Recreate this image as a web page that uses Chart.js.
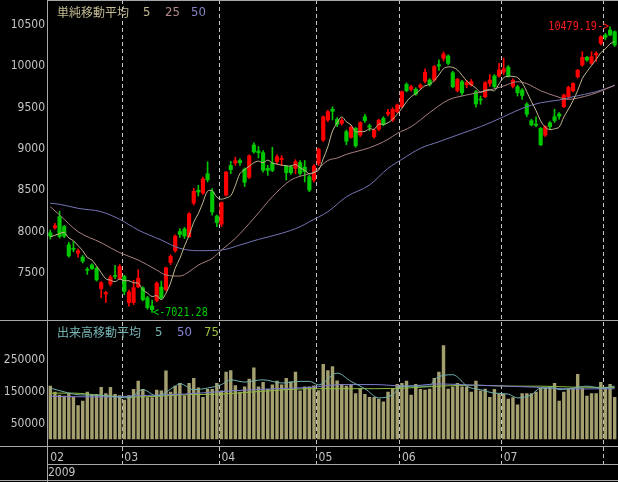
<!DOCTYPE html>
<html>
<head>
<meta charset="utf-8">
<script src="https://cdn.jsdelivr.net/npm/chart.js@4.4.1/dist/chart.umd.min.js"></script>
<style>
html, body { margin: 0; padding: 0; background: #000; }
#wrap { position: relative; width: 618px; height: 482px; background: #000; overflow: hidden; }
#priceBox { position: absolute; left: 0; top: 0; width: 618px; height: 320px; }
#volBox { position: absolute; left: 0; top: 322px; width: 618px; height: 159px; }
.hl { position: absolute; height: 1px; background: #a8a8a8; }
.vl { position: absolute; width: 1px; background: #a8a8a8; }
.lg { position: absolute; font-size: 12px; line-height: 14px; white-space: nowrap; }
.jp { font-family: "Noto Sans CJK JP", sans-serif; }
.num { font-family: "Liberation Sans Narrow", "DejaVu Sans Condensed", "Liberation Sans", sans-serif; font-size: 13px; }
</style>
</head>
<body>
<div id="wrap">
  <div id="priceBox"><canvas id="priceChart" width="618" height="320"></canvas></div>
  <div id="volBox"><canvas id="volChart" width="618" height="159"></canvas></div>

  <div class="hl" style="left:47px;top:0;width:571px"></div>
  <div class="hl" style="left:0;top:320px;width:618px"></div>
  <div class="hl" style="left:0;top:446px;width:618px"></div>
  <div class="hl" style="left:47px;top:464px;width:571px"></div>
  <div class="hl" style="left:0;top:480px;width:618px"></div>
  <div class="vl" style="left:47px;top:0;height:482px"></div>

  <span class="lg jp" style="left:57px;top:5px;color:#c4bc94">単純移動平均</span>
  <span class="lg num" style="left:143px;top:5px;color:#c4bc94">5</span>
  <span class="lg num" style="left:165px;top:5px;color:#b08888">25</span>
  <span class="lg num" style="left:191px;top:5px;color:#8484c4">50</span>

  <span class="lg jp" style="left:57px;top:325px;color:#78b4b4">出来高移動平均</span>
  <span class="lg num" style="left:155px;top:325px;color:#78b4b4">5</span>
  <span class="lg num" style="left:177px;top:325px;color:#8484d4">50</span>
  <span class="lg num" style="left:204px;top:325px;color:#9cc040">75</span>
</div>

<script>
// trading days, Feb 5 2009 .. Aug 5 2009
const tradingDays = [
    ['02', [5, 6, 9, 10, 12, 13, 16, 17, 18, 19, 20, 23, 24, 25, 26, 27]],
    ['03', [2, 3, 4, 5, 6, 9, 10, 11, 12, 13, 16, 17, 18, 19, 23, 24, 25, 26, 27, 30, 31]],
    ['04', [1, 2, 3, 6, 7, 8, 9, 10, 13, 14, 15, 16, 17, 20, 21, 22, 23, 24, 27, 28, 30]],
    ['05', [1, 7, 8, 11, 12, 13, 14, 15, 18, 19, 20, 21, 22, 25, 26, 27, 28, 29]],
    ['06', [1, 2, 3, 4, 5, 8, 9, 10, 11, 12, 15, 16, 17, 18, 19, 22, 23, 24, 25, 26, 29, 30]],
    ['07', [1, 2, 3, 6, 7, 8, 9, 10, 13, 14, 15, 16, 17, 21, 22, 23, 24, 27, 28, 29, 30, 31]],
    ['08', [3, 4, 5]]
];
const yearLabel = '2009';

// daily candles (open / high / low / close)
const opens = [
    7985, 8045, 8180, 8060, 7840, 7795, 7737, 7690, 7540, 7596, 7556, 7310, 7245, 7365, 7462, 7430,
    7456, 7140, 7140, 7330, 7318, 7198, 7100, 7166, 7327, 7295, 7625, 7768, 8000, 8030, 7937, 8345, 8500, 8466, 8700, 8482, 8188,
    8090, 8440, 8800, 8830, 8860, 8756, 8656, 9047, 8975, 8954, 8765, 8830, 8845, 8870, 8790, 8780, 8765, 8833, 8780, 8663, 8623,
    8826, 9108, 9350, 9480, 9358, 9310, 9208, 9140, 9249, 9168, 9390, 9280, 9148, 9237, 9370, 9423, 9350, 9450,
    9511, 9782, 9722, 9722, 9746, 9820, 9834, 9834, 10020, 10097, 10125, 9923, 9705, 9814, 9777, 9774, 9693, 9600, 9632, 9794, 9883, 9883,
    9930, 9990, 9760, 9753, 9713, 9544, 9341, 9300, 9249, 9168, 9317, 9390, 9423, 9511, 9632, 9705, 9874, 10016, 10109, 10036, 10137, 10278,
    10379, 10439, 10419
];
const highs = [
    8018, 8100, 8245, 8075, 7870, 7880, 7790, 7710, 7565, 7610, 7570, 7395, 7275, 7470, 7590, 7600,
    7470, 7290, 7410, 7540, 7330, 7215, 7170, 7390, 7400, 7570, 7720, 7960, 8035, 8050, 8230, 8523, 8560, 8660, 8845, 8520, 8200,
    8360, 8730, 8850, 8900, 8880, 8770, 8930, 9075, 9030, 8980, 8800, 9020, 8930, 8920, 8800, 8800, 8870, 8860, 8860, 8680, 8810,
    9010, 9400, 9470, 9510, 9380, 9370, 9230, 9280, 9260, 9330, 9420, 9300, 9240, 9360, 9390, 9480, 9500, 9545,
    9700, 9800, 9770, 9740, 9790, 9970, 9850, 10010, 10080, 10175, 10140, 9940, 9855, 9830, 9830, 9840, 9710, 9640, 9815, 9900, 9900, 10036,
    10100, 10010, 9850, 9770, 9730, 9560, 9360, 9390, 9260, 9280, 9330, 9480, 9440, 9665, 9760, 9800, 9960, 10177, 10120, 10177, 10177, 10370,
    10400, 10479.19, 10430
];
const lows = [
    7909, 8030, 7920, 7925, 7690, 7755, 7690, 7620, 7480, 7540, 7400, 7200, 7140, 7340, 7430, 7420,
    7235, 7095, 7115, 7320, 7160, 7060, 7021.28, 7150, 7180, 7280, 7600, 7750, 7930, 7915, 7930, 8320, 8430, 8450, 8600, 8200, 8060,
    8060, 8430, 8700, 8800, 8800, 8543, 8640, 8950, 8890, 8720, 8680, 8725, 8820, 8800, 8623, 8690, 8700, 8680, 8600, 8482, 8600,
    8800, 9090, 9330, 9350, 9270, 9290, 9050, 9130, 9020, 9150, 9320, 9220, 9130, 9220, 9280, 9400, 9330, 9440,
    9500, 9690, 9700, 9650, 9730, 9800, 9760, 9820, 9950, 10065, 10020, 9740, 9690, 9650, 9740, 9760, 9505, 9540, 9620, 9760, 9740, 9870,
    9900, 9870, 9740, 9640, 9600, 9390, 9280, 9270, 9040, 9150, 9240, 9320, 9360, 9500, 9610, 9690, 9860, 10000, 10060, 10020, 10060, 10260,
    10320, 10370, 10240
];
const closes = [
    7945, 8070, 7940, 7945, 7705, 7785, 7768, 7640, 7530, 7550, 7415, 7380, 7262, 7450, 7457, 7576,
    7275, 7265, 7320, 7435, 7174, 7080, 7054, 7375, 7198, 7560, 7700, 7945, 7965, 7945, 8215, 8488, 8479, 8636, 8626, 8236, 8109,
    8351, 8719, 8749, 8857, 8832, 8595, 8916, 8964, 8955, 8742, 8742, 8740, 8906, 8885, 8712, 8712, 8845, 8703, 8726, 8502, 8793,
    8995, 9390, 9450, 9455, 9299, 9345, 9093, 9261, 9038, 9317, 9344, 9264, 9229, 9347, 9300, 9445, 9480, 9532,
    9693, 9705, 9753, 9665, 9774, 9930, 9780, 9996, 10003, 10149, 10036, 9754, 9843, 9680, 9801, 9814, 9544, 9592, 9801, 9834, 9754, 9955,
    9970, 9883, 9830, 9680, 9647, 9420, 9291, 9287, 9050, 9269, 9269, 9344, 9395, 9653, 9745, 9794, 9955, 10109, 10076, 10117, 10157, 10359,
    10352, 10379, 10258
];

// simple moving averages
const priceMa5 = [
    7935, 7955, 7975, 7988, 7922, 7889, 7829, 7769, 7686, 7655, 7581, 7503, 7427, 7411, 7393, 7425,
    7404, 7405, 7379, 7374, 7294, 7255, 7213, 7224, 7176, 7253, 7377, 7556, 7674, 7823, 7954, 8112, 8218, 8353, 8489, 8493, 8417,
    8392, 8408, 8433, 8557, 8702, 8750, 8790, 8833, 8852, 8834, 8864, 8829, 8817, 8803, 8797, 8791, 8812, 8771, 8740, 8698, 8714,
    8744, 8881, 9026, 9217, 9318, 9388, 9328, 9291, 9207, 9211, 9211, 9245, 9238, 9300, 9297, 9317, 9360, 9421,
    9490, 9571, 9633, 9670, 9718, 9765, 9780, 9829, 9897, 9972, 9993, 9988, 9957, 9892, 9823, 9778, 9736, 9686, 9710, 9717, 9705, 9787,
    9863, 9879, 9878, 9864, 9802, 9692, 9574, 9465, 9339, 9263, 9233, 9244, 9265, 9386, 9481, 9586, 9708, 9851, 9936, 10010, 10083, 10164,
    10212, 10273, 10301
];
// [day index, value]
const priceMa25 = [
    [0, 8300], [2, 8200], [6, 7998], [11, 7865], [15, 7744], [19, 7655], [23, 7534], [25, 7473], [28, 7461],
    [30, 7513], [32, 7594], [35, 7675], [37, 7776], [40, 7917], [44, 8160], [48, 8421], [52, 8623], [56, 8700],
    [57, 8720], [60, 8860], [62, 8890], [64, 8934], [69, 9015], [73, 9116], [75, 9189], [78, 9269], [82, 9440],
    [86, 9592], [90, 9653], [95, 9713], [98, 9762], [101, 9814], [103, 9790], [106, 9705], [109, 9644], [112, 9600],
    [114, 9615], [117, 9660], [119, 9700], [122, 9770]
];
const priceMa50 = [
    [0, 8342], [2, 8330], [6, 8281], [11, 8240], [15, 8148], [19, 8018], [24, 7897], [28, 7797], [32, 7768],
    [37, 7776], [41, 7837], [45, 7905], [50, 7978], [54, 8058], [56, 8119], [60, 8240], [64, 8421], [69, 8563],
    [73, 8765], [76, 8874], [80, 9007], [84, 9087], [89, 9189], [93, 9269], [98, 9390], [102, 9491], [106, 9559],
    [110, 9592], [113, 9632], [118, 9693], [122, 9770]
];
const priceTicks = [7500, 8000, 8500, 9000, 9500, 10000, 10500];

// volume
const volumes = [
    169000, 150000, 141000, 138000, 146000, 134000, 108000, 122000, 150000, 141000, 143000, 165000, 146000, 165000, 143000, 139000,
    125000, 139000, 159000, 185000, 159000, 133000, 133000, 157000, 154000, 217000, 150000, 169000, 178000, 139000, 178000, 194000, 164000, 134000, 159000, 159000, 178000,
    154000, 213000, 218000, 171000, 150000, 167000, 191000, 227000, 167000, 181000, 159000, 173000, 185000, 173000, 194000, 183000, 213000, 154000, 167000, 167000, 170000,
    155000, 238000, 218000, 231000, 186000, 175000, 169000, 173000, 146000, 162000, 143000, 134000, 134000, 128000, 120000, 150000, 159000, 175000,
    178000, 185000, 141000, 175000, 159000, 157000, 160000, 194000, 213000, 297000, 160000, 167000, 178000, 167000, 167000, 150000, 185000, 154000, 160000, 134000, 159000, 143000,
    143000, 128000, 133000, 110000, 146000, 146000, 146000, 150000, 162000, 162000, 167000, 178000, 122000, 150000, 159000, 162000, 206000, 162000, 138000, 146000, 146000, 181000,
    162000, 175000, 134000
];
const volMa5 = [
    [0, 162000], [3, 150000], [6, 141000], [11, 139000], [15, 133000], [17, 131000], [20, 157000], [23, 137000],
    [27, 168000], [28, 176000], [31, 157000], [34, 162000], [37, 173000], [39, 188000], [42, 181000], [46, 188000],
    [50, 178000], [54, 183000], [56, 183000], [58, 172000], [62, 209000], [65, 183000], [68, 160000], [71, 131000],
    [74, 141000], [76, 168000], [79, 168000], [82, 168000], [83, 188000], [85, 202000], [87, 204000], [89, 183000],
    [90, 168000], [93, 157000], [96, 146000], [99, 143000], [101, 131000], [104, 141000], [106, 162000], [109, 162000],
    [110, 157000], [113, 162000], [116, 168000], [119, 162000], [122, 168000]
];
const volMa50 = [
    [0, 136000], [11, 134000], [21, 139000], [29, 143000], [40, 154000], [47, 159000], [56, 164000], [63, 173000],
    [70, 173000], [77, 168000], [84, 175000], [92, 171000], [99, 168000], [106, 164000], [113, 159000], [122, 160000]
];
const volMa75 = [
    [0, 146000], [5, 146000], [11, 139000], [18, 134000], [23, 136000], [29, 141000], [37, 143000], [44, 150000],
    [51, 157000], [56, 160000], [63, 160000], [70, 160000], [77, 162000], [84, 168000], [92, 171000], [99, 168000],
    [106, 168000], [113, 165000], [122, 164000]
];
const volTicks = [50000, 150000, 250000];

// build labels and month boundaries
const dates = [];
const monthStarts = [];
tradingDays.forEach(([m, days]) => {
    monthStarts.push(dates.length);
    days.forEach(d => dates.push('2009/' + m + '/' + String(d).padStart(2, '0')));
});

const UP = '#ff0000';
const DOWN = '#00c800';
const candleColors = closes.map((c, i) => c >= opens[i] ? UP : DOWN);
const pts = arr => arr.map(p => ({ x: dates[p[0]], y: p[1] }));

const numFont = { family: '"Liberation Sans Narrow", "DejaVu Sans Condensed", "Liberation Sans", sans-serif', size: 12 };
const monthLine = ctx => (ctx.index > 0 && monthStarts.includes(ctx.index)) ? '#c8c8c8' : 'rgba(0,0,0,0)';
const plainNumber = v => String(v);

// high / low markers, narrow text like the original terminal font
const extremeMarks = {
    id: 'extremeMarks',
    afterDatasetsDraw(chart) {
        const { ctx, scales: { x, y } } = chart;
        const hi = highs.indexOf(Math.max(...highs));
        const lo = lows.indexOf(Math.min(...lows));
        ctx.save();
        ctx.font = '12px "DejaVu Sans Mono", monospace';
        ctx.textBaseline = 'middle';

        ctx.save();
        ctx.translate(x.getPixelForValue(hi) - 1, y.getPixelForValue(highs[hi]));
        ctx.scale(0.84, 1);
        ctx.fillStyle = '#ff1c1c';
        ctx.textAlign = 'right';
        ctx.fillText(highs[hi].toFixed(2) + '->', 0, 0);
        ctx.restore();

        ctx.save();
        ctx.translate(x.getPixelForValue(lo) + 1, y.getPixelForValue(lows[lo]));
        ctx.scale(0.84, 1);
        ctx.fillStyle = '#00d000';
        ctx.textAlign = 'left';
        ctx.fillText('<-' + lows[lo].toFixed(2), 0, 0);
        ctx.restore();

        ctx.restore();
    }
};

// Price chart
const priceChart = new Chart(document.getElementById('priceChart'), {
    type: 'bar',
    data: {
        labels: dates,
        datasets: [
            { type: 'line', data: priceMa5, borderColor: '#c0b890', borderWidth: 1, pointRadius: 0, tension: 0.35, order: 1 },
            { type: 'line', data: pts(priceMa25), borderColor: '#a88080', borderWidth: 1, pointRadius: 0, cubicInterpolationMode: 'monotone', order: 2 },
            { type: 'line', data: pts(priceMa50), borderColor: '#7474b4', borderWidth: 1, pointRadius: 0, cubicInterpolationMode: 'monotone', order: 3 },
            {
                data: opens.map((o, i) => [o, closes[i]]),
                backgroundColor: candleColors,
                barThickness: 3.5,
                minBarLength: 1,
                grouped: false,
                order: 4
            },
            {
                data: lows.map((l, i) => [l, highs[i]]),
                backgroundColor: candleColors,
                barThickness: 1,
                grouped: false,
                order: 5
            }
        ]
    },
    options: {
        responsive: false,
        animation: false,
        events: [],
        layout: { padding: { left: 0, right: 1, top: 0, bottom: 0 } },
        plugins: { legend: { display: false }, tooltip: { enabled: false } },
        scales: {
            x: {
                offset: true,
                grid: { offset: true, color: monthLine, drawTicks: false },
                border: { display: false, dash: [4, 3] },
                ticks: { display: false }
            },
            y: {
                min: 6929,
                max: 10803,
                afterBuildTicks: s => { s.ticks = priceTicks.map(v => ({ value: v })); },
                afterFit: s => { s.width = 48; s.paddingTop = 0; s.paddingBottom = 0; },
                grid: { display: false, drawTicks: false },
                border: { display: false },
                ticks: { color: '#c4c4c4', font: numFont, padding: 3, callback: plainNumber }
            }
        }
    },
    plugins: [extremeMarks]
});

// Volume chart
const volChart = new Chart(document.getElementById('volChart'), {
    type: 'bar',
    data: {
        labels: dates,
        datasets: [
            { type: 'line', data: pts(volMa5), borderColor: '#70b0b0', borderWidth: 1, pointRadius: 0, cubicInterpolationMode: 'monotone', order: 1 },
            { type: 'line', data: pts(volMa50), borderColor: '#7c7cd0', borderWidth: 1, pointRadius: 0, cubicInterpolationMode: 'monotone', order: 2 },
            { type: 'line', data: pts(volMa75), borderColor: '#8cbc3c', borderWidth: 1, pointRadius: 0, cubicInterpolationMode: 'monotone', order: 3 },
            {
                data: volumes,
                backgroundColor: '#a39f6e',
                barPercentage: 0.74,
                categoryPercentage: 1,
                order: 4
            }
        ]
    },
    options: {
        responsive: false,
        animation: false,
        events: [],
        layout: { padding: { left: 0, right: 1, top: 0, bottom: 0 } },
        plugins: { legend: { display: false }, tooltip: { enabled: false } },
        scales: {
            x: {
                offset: true,
                grid: {
                    offset: true,
                    color: monthLine,
                    tickColor: monthLine,
                    drawTicks: true,
                    tickLength: 25,
                    tickBorderDash: [4, 3]
                },
                border: { display: false, dash: [4, 3] },
                ticks: {
                    autoSkip: false,
                    maxRotation: 0,
                    minRotation: 0,
                    align: 'start',
                    padding: -14,
                    color: '#c4c4c4',
                    font: numFont,
                    callback: (v, i) => {
                        const k = monthStarts.indexOf(i);
                        // the last, partial month gets its line but no label
                        return (k >= 0 && k < tradingDays.length - 1) ? tradingDays[k][0] : '';
                    }
                },
                title: {
                    display: true,
                    text: yearLabel,
                    align: 'start',
                    color: '#c4c4c4',
                    font: numFont,
                    padding: { top: 0, bottom: 1 }
                },
                afterFit: s => { s.height = 41.5; s.paddingLeft = 0; s.paddingRight = 0; }
            },
            y: {
                min: 0,
                max: 370000,
                afterBuildTicks: s => { s.ticks = volTicks.map(v => ({ value: v })); },
                afterFit: s => { s.width = 48; s.paddingTop = 0; s.paddingBottom = 0; },
                grid: { display: false, drawTicks: false },
                border: { display: false },
                ticks: { color: '#c4c4c4', font: numFont, padding: 3, callback: plainNumber }
            }
        }
    }
});
</script>
</body>
</html>
